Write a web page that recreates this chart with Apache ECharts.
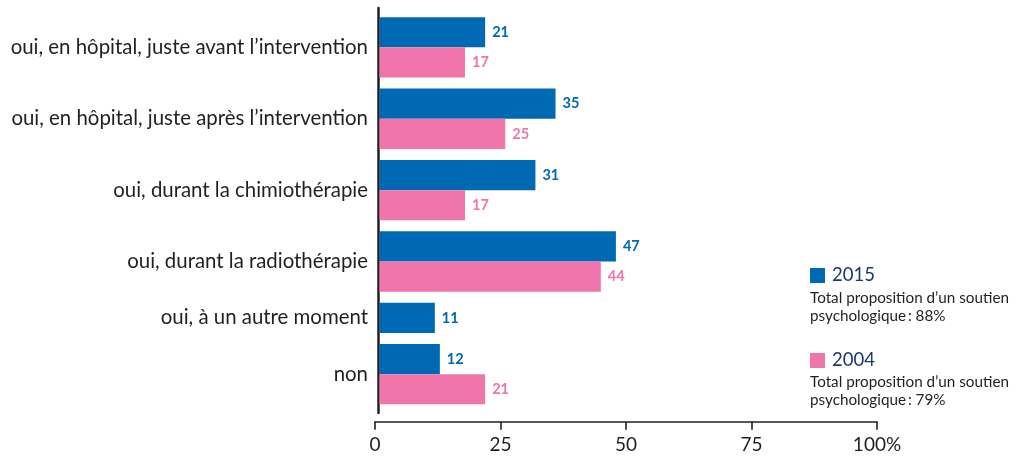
<!DOCTYPE html>
<html>
<head>
<meta charset="utf-8">
<script src="https://cdn.jsdelivr.net/npm/echarts@6/dist/echarts.min.js"></script>
<style>
html,body{margin:0;padding:0;background:#fff;}
#chart{width:1027px;height:457px;}
</style>
</head>
<body>
<div id="chart"></div>
<script>
// ---- data ----
const categories = [
  'oui, en hôpital, juste avant l’intervention',
  'oui, en hôpital, juste après l’intervention',
  'oui, durant la chimiothérapie',
  'oui, durant la radiothérapie',
  'oui, à un autre moment',
  'non'
];
const seriesNames = ['2015', '2004'];
const values2015 = [21, 35, 31, 47, 11, 12];
const values2004 = [17, 25, 17, 44, null, 21];
const xTickValues = [0, 25, 50, 75, 100];
const xTickLabels = ['0', '25', '50', '75', '100%'];
const legendNotes = [
  'Total proposition d’un soutien\npsychologique\u2009: 88%',
  'Total proposition d’un soutien\npsychologique\u2009: 79%'
];

// ---- styles ----
const colors = ['#0069b4', '#f075aa'];
const FONT = 'Lato';
const textColor = '#231f20';

function fitSize(text, weight, target) {
  const c = document.createElement('canvas').getContext('2d');
  c.font = weight + ' 100px ' + FONT;
  return 100 * target / c.measureText(text).width;
}
const catFont = fitSize(categories[2], 'normal', 255);
const noteFont = fitSize('Total proposition d’un soutien', 'normal', 199);

const barH = 30.2, gap = 11, firstTop = 11.65;
const barLeft = 379.5, barWidthPx = 503;
const valueSets = [values2015, values2004];

const grids = [], xAxes = [], yAxes = [], series = [];
let curTop = firstTop;
categories.forEach((cat, i) => {
  const present = valueSets.map((v, k) => k).filter(k => valueSets[k][i] != null);
  const h = present.length * barH + gap;
  grids.push({left: barLeft, width: barWidthPx, top: curTop, height: h});
  xAxes.push({gridIndex: i, type: 'value', min: 0, max: 100, show: false});
  yAxes.push({
    gridIndex: i, type: 'category', data: [cat],
    axisLine: {show: false}, axisTick: {show: false}, splitLine: {show: false},
    axisLabel: {margin: 11.5, fontFamily: FONT, fontSize: catFont, color: textColor}
  });
  present.forEach(k => {
    series.push({
      name: seriesNames[k], type: 'bar', xAxisIndex: i, yAxisIndex: i,
      data: [valueSets[k][i]], barWidth: barH, barGap: '0%',
      itemStyle: {color: colors[k]},
      label: {show: true, position: 'right', distance: 7, fontFamily: FONT,
              fontWeight: 'bold', fontSize: 14.5, color: colors[k]},
      silent: true, animation: false
    });
  });
  curTop += h;
});

// axis-only grid
const ai = categories.length;
grids.push({left: 375, width: 502, top: 8, height: 405});
xAxes.push({
  gridIndex: ai, type: 'value', min: 0, max: 100, interval: 25, offset: 8.7,
  axisLine: {show: true, onZero: false, lineStyle: {color: textColor, width: 1.6}},
  axisTick: {show: true, length: 8, lineStyle: {color: textColor, width: 1.6}},
  splitLine: {show: false},
  axisLabel: {margin: 14, fontFamily: FONT, fontSize: 19, color: textColor,
    formatter: v => xTickLabels[xTickValues.indexOf(v)]}
});
yAxes.push({
  gridIndex: ai, type: 'value', min: 0, max: 1, offset: -3.5,
  axisLine: {show: true, onZero: false, lineStyle: {color: textColor, width: 2.5}},
  axisTick: {show: false}, axisLabel: {show: false}, splitLine: {show: false}
});

const chart = echarts.init(document.getElementById('chart'), null, {renderer: 'canvas'});
chart.setOption({
  animation: false,
  backgroundColor: '#fff',
  grid: grids, xAxis: xAxes, yAxis: yAxes, series: series,
  legend: {
    data: seriesNames, orient: 'vertical', left: 810, top: 266, padding: 0,
    itemWidth: 15, itemHeight: 15, itemGap: 66, icon: 'rect',
    selectedMode: false,
    textStyle: {fontFamily: FONT, fontSize: 18.5, color: '#1b3a6b', lineHeight: 15, padding: [0,0,0,2]}
  },
  graphic: legendNotes.map((t, k) => ({
    type: 'text', left: 810, top: [289.3, 372.7][k],
    style: {text: t, fontFamily: FONT, fontSize: noteFont, lineHeight: 18, fill: textColor}
  }))
});
</script>
</body>
</html>
